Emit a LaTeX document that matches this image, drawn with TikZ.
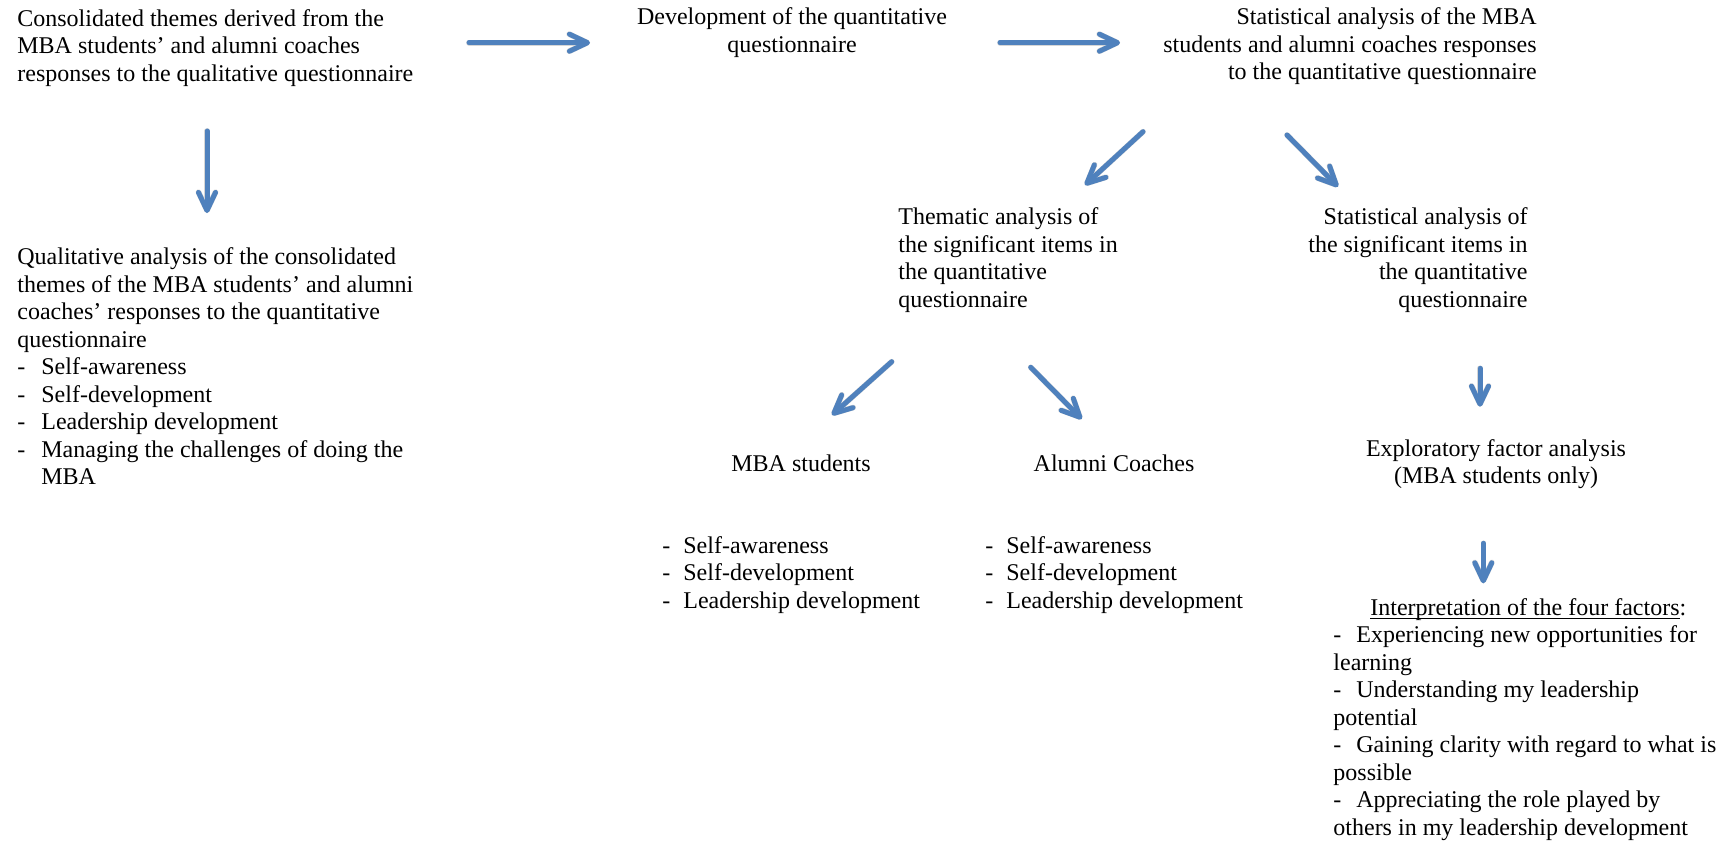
\documentclass[tikz,border=0pt]{standalone}
\usepackage{fontspec}
\setmainfont{Liberation Serif}
\usetikzlibrary{arrows.meta}
\definecolor{flowblue}{HTML}{4F81BD}
% hyphen bullet set in a box of given width
\newcommand{\itemdash}[1]{\makebox[#1][l]{-}}
% text with a rule drawn just below its baseline
\newcommand{\ulinetext}[1]{\setbox0\hbox{#1}\rlap{\rule[-1.9pt]{\wd0}{0.6pt}}\box0}
\begin{document}
\begin{tikzpicture}[x=0.5pt,y=-0.5pt,
  txt/.style={inner sep=0pt, font=\fontsize{12}{13.75}\selectfont, execute at begin node=\strut},
  flowtip/.style={-{Straight Barb[length=9pt,width=8.5pt,line join=round,line cap=round]}},
  flow/.style={draw=flowblue, line width=2.5pt, line cap=round, flowtip},
  flowshade/.style={draw=black!16, line width=2.8pt, line cap=round, flowtip, xshift=1pt, yshift=-1.5pt}]
\newcommand{\flowarrow}[2]{\draw[flowshade] (#1) -- (#2); \draw[flow] (#1) -- (#2);}

\fill[white] (0,0) rectangle (1727,846);
\useasboundingbox (0,0) rectangle (1727,846);

% top row
\node[txt, align=left, anchor=north west] (consol) at (17,9)
  {Consolidated themes derived from the\\MBA students’ and alumni coaches\\responses to the qualitative questionnaire};
\node[txt, align=center, anchor=north] (devq) at (792,7.4)
  {Development of the quantitative\\questionnaire};
\node[txt, align=right, anchor=north east] (statall) at (1537,7.4)
  {Statistical analysis of the MBA\\students and alumni coaches responses\\to the quantitative questionnaire};

% left column
\node[txt, align=left, anchor=north west] (qual) at (17,247.5)
  {Qualitative analysis of the consolidated\\themes of the MBA students’ and alumni\\coaches’ responses to the quantitative\\questionnaire\\
   \itemdash{12pt}Self-awareness\\\itemdash{12pt}Self-development\\\itemdash{12pt}Leadership development\\
   \itemdash{12pt}Managing the challenges of doing the\\\hspace*{12pt}MBA};

% second row
\node[txt, align=left, anchor=north west] (thematic) at (898,207.5)
  {Thematic analysis of\\the significant items in\\the quantitative\\questionnaire};
\node[txt, align=right, anchor=north east] (statsig) at (1528,207.5)
  {Statistical analysis of\\the significant items in\\the quantitative\\questionnaire};

% groups
\node[txt, anchor=base] (mbas) at (801,471.7) {MBA students};
\node[txt, anchor=base] (alum) at (1114,471.7) {Alumni Coaches};
\node[txt, align=left, anchor=north west] (mbalist) at (662,535.75)
  {\itemdash{10.5pt}Self-awareness\\\itemdash{10.5pt}Self-development\\\itemdash{10.5pt}Leadership development};
\node[txt, align=left, anchor=north west] (alumlist) at (985,535.75)
  {\itemdash{10.5pt}Self-awareness\\\itemdash{10.5pt}Self-development\\\itemdash{10.5pt}Leadership development};

% right column
\node[txt, align=center, anchor=north] (efa) at (1496,438.75)
  {Exploratory factor analysis\\(MBA students only)};
\node[txt, align=left, anchor=north west] (interp) at (1333,597.75)
  {\hspace*{18.5pt}\ulinetext{Interpretation of the four factors}:\\
   \itemdash{11.5pt}Experiencing new opportunities for\\learning\\
   \itemdash{11.5pt}Understanding my leadership\\potential\\
   \itemdash{11.5pt}Gaining clarity with regard to what is\\possible\\
   \itemdash{11.5pt}Appreciating the role played by\\others in my leadership development};

% arrow ends
\coordinate (consol-out) at (469,42.7);
\coordinate (devq-in) at (590,42.7);
\coordinate (devq-out) at (1000,42.7);
\coordinate (statall-in) at (1120,42.7);
\coordinate (consol-down) at (207,131);
\coordinate (qual-in) at (207,213);
\coordinate (statall-left) at (1143,131.7);
\coordinate (thematic-in) at (1085,185);
\coordinate (statall-right) at (1287,135);
\coordinate (statsig-in) at (1338,186.7);
\coordinate (thematic-left) at (891.7,361.7);
\coordinate (mbas-in) at (832,415);
\coordinate (thematic-right) at (1030.7,367.3);
\coordinate (alum-in) at (1081.7,419);
\coordinate (statsig-down) at (1480,368.3);
\coordinate (efa-in) at (1480,406.7);
\coordinate (efa-down) at (1483.3,543.3);
\coordinate (interp-in) at (1483.3,583.3);

\flowarrow{consol-out}{devq-in}
\flowarrow{devq-out}{statall-in}
\flowarrow{consol-down}{qual-in}
\flowarrow{statall-left}{thematic-in}
\flowarrow{statall-right}{statsig-in}
\flowarrow{thematic-left}{mbas-in}
\flowarrow{thematic-right}{alum-in}
\flowarrow{statsig-down}{efa-in}
\flowarrow{efa-down}{interp-in}
\end{tikzpicture}
\end{document}
